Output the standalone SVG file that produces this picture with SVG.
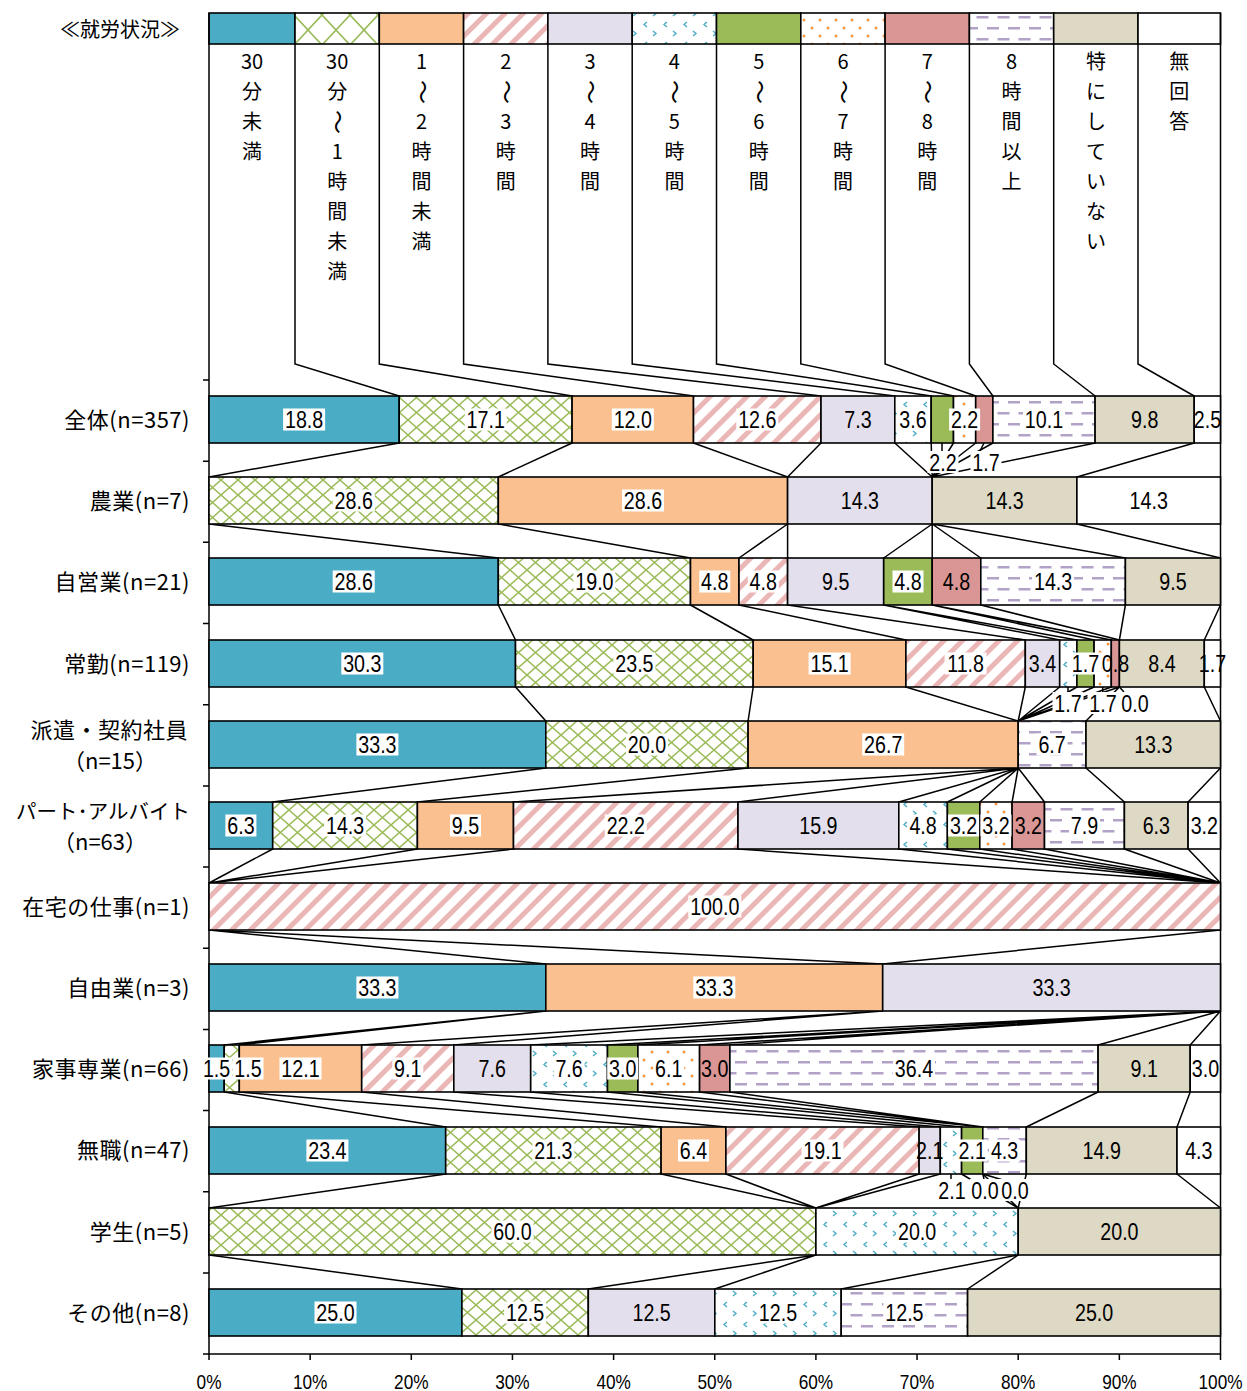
<svg xmlns="http://www.w3.org/2000/svg" width="1247" height="1391" viewBox="0 0 1247 1391">
<style>
.seg{stroke:#000;stroke-width:1.6}
.ln{fill:none;stroke:#000;stroke-width:1.5}
.lb{font-family:"Liberation Sans",Arial,sans-serif;font-size:24px;text-anchor:middle;fill:#000}
.bx{fill:#fff}
.cat{font-family:"Noto Sans CJK JP","Noto Sans CJK SC",sans-serif;font-size:22px;letter-spacing:0.5px;text-anchor:end;fill:#000}
.catn{font-size:20.5px;letter-spacing:0}
.catc{font-family:"Noto Sans CJK JP","Noto Sans CJK SC",sans-serif;font-size:22px;text-anchor:middle;fill:#000}
.lg{font-family:"Noto Sans CJK JP","Noto Sans CJK SC",sans-serif;font-size:20px;text-anchor:middle;fill:#000}
.wave{font-size:24px}
.ax{font-family:"Liberation Sans",Arial,sans-serif;font-size:21px;text-anchor:middle;fill:#000}
.c1{fill:#4BACC6}.c2{fill:url(#pCross)}.c3{fill:#FAC090}.c4{fill:url(#pStripe)}
.c5{fill:#E4DFEC}.c6{fill:url(#pArrow)}.c7{fill:#9BBB59}.c8{fill:url(#pDot)}
.c9{fill:#D99694}.c10{fill:url(#pDash)}.c11{fill:#DDD9C4}.c12{fill:#fff}
.c2L{fill:url(#pCrossL)}
</style>
<defs>
<pattern id="pCross" width="17" height="15" patternUnits="userSpaceOnUse">
<rect width="17" height="15" fill="#fff"/>
<path d="M0,0L17,15M17,0L0,15" stroke="#9BBB59" stroke-width="1.5"/>
</pattern>
<pattern id="pCrossL" width="28" height="30" patternUnits="userSpaceOnUse">
<rect width="28" height="30" fill="#fff"/>
<path d="M0,0L28,30M28,0L0,30" stroke="#9BBB59" stroke-width="1.6"/>
</pattern>
<pattern id="pStripe" width="13" height="13" patternUnits="userSpaceOnUse" patternTransform="rotate(45)">
<rect width="13" height="13" fill="#fff"/>
<rect width="5" height="13" fill="#EBB7B6"/>
</pattern>
<pattern id="pArrow" width="20" height="20" patternUnits="userSpaceOnUse">
<rect width="20" height="20" fill="#fff"/>
<path d="M7,2L4,4.5L7,7M13,11L16,13.5L13,16" fill="none" stroke="#4BACC6" stroke-width="1.4"/>
</pattern>
<pattern id="pDot" width="16" height="16" patternUnits="userSpaceOnUse">
<rect width="16" height="16" fill="#fff"/>
<circle cx="4" cy="4" r="1.5" fill="#F79646"/>
<circle cx="12" cy="12" r="1.5" fill="#F79646"/>
</pattern>
<pattern id="pDash" width="21" height="22" patternUnits="userSpaceOnUse">
<rect width="21" height="22" fill="#fff"/>
<rect x="0" y="5" width="12" height="2.5" fill="#B3A2C7"/>
<rect x="10.5" y="16" width="10.5" height="2.5" fill="#B3A2C7"/>
<rect x="0" y="16" width="1.5" height="2.5" fill="#B3A2C7"/>
</pattern>
</defs>
<rect width="1247" height="1391" fill="#fff"/>

<!-- legend: swatches, vertical captions and leader lines to the first bar -->
<g id="legend">
<text class="lg" x="120" y="37">≪就労状況≫</text>
<rect class="seg c1" x="209" y="13" width="86" height="31"/>
<rect class="seg c2L" x="295" y="13" width="84.3" height="31"/>
<rect class="seg c3" x="379.3" y="13" width="84.3" height="31"/>
<rect class="seg c4" x="463.6" y="13" width="84.3" height="31"/>
<rect class="seg c5" x="547.9" y="13" width="84.3" height="31"/>
<rect class="seg c6" x="632.2" y="13" width="84.3" height="31"/>
<rect class="seg c7" x="716.5" y="13" width="84.3" height="31"/>
<rect class="seg c8" x="800.8" y="13" width="84.3" height="31"/>
<rect class="seg c9" x="885.1" y="13" width="84.3" height="31"/>
<rect class="seg c10" x="969.4" y="13" width="84.3" height="31"/>
<rect class="seg c11" x="1053.7" y="13" width="84.3" height="31"/>
<rect class="seg c12" x="1138" y="13" width="82.5" height="31"/>
<path class="ln" d="M295,44V364L399.2,396M379.3,44V364L572.1,396M463.6,44V364L693.5,396M547.9,44V364L821,396M632.2,44V364L894.8,396M716.5,44V364L931.2,396M800.8,44V364L953.5,396M885.1,44V364L975.7,396M969.4,44V364L992.9,396M1053.7,44V364L1095.1,396M1138,44V364L1194.2,396"/>
<text class="lg"><tspan x="252" y="69">30</tspan><tspan x="252" y="99">分</tspan><tspan x="252" y="129">未</tspan><tspan x="252" y="159">満</tspan></text>
<text class="lg"><tspan x="337.2" y="69">30</tspan><tspan x="337.2" y="99">分</tspan><tspan x="337.2" y="159">1</tspan><tspan x="337.2" y="189">時</tspan><tspan x="337.2" y="219">間</tspan><tspan x="337.2" y="249">未</tspan><tspan x="337.2" y="279">満</tspan></text>
<text class="lg wave" x="337.2" y="130" transform="rotate(90 337.2 122)">～</text>
<text class="lg"><tspan x="421.5" y="69">1</tspan><tspan x="421.5" y="129">2</tspan><tspan x="421.5" y="159">時</tspan><tspan x="421.5" y="189">間</tspan><tspan x="421.5" y="219">未</tspan><tspan x="421.5" y="249">満</tspan></text>
<text class="lg wave" x="421.5" y="100" transform="rotate(90 421.5 92)">～</text>
<text class="lg"><tspan x="505.8" y="69">2</tspan><tspan x="505.8" y="129">3</tspan><tspan x="505.8" y="159">時</tspan><tspan x="505.8" y="189">間</tspan></text>
<text class="lg wave" x="505.8" y="100" transform="rotate(90 505.8 92)">～</text>
<text class="lg"><tspan x="590.1" y="69">3</tspan><tspan x="590.1" y="129">4</tspan><tspan x="590.1" y="159">時</tspan><tspan x="590.1" y="189">間</tspan></text>
<text class="lg wave" x="590.1" y="100" transform="rotate(90 590.1 92)">～</text>
<text class="lg"><tspan x="674.4" y="69">4</tspan><tspan x="674.4" y="129">5</tspan><tspan x="674.4" y="159">時</tspan><tspan x="674.4" y="189">間</tspan></text>
<text class="lg wave" x="674.4" y="100" transform="rotate(90 674.4 92)">～</text>
<text class="lg"><tspan x="758.7" y="69">5</tspan><tspan x="758.7" y="129">6</tspan><tspan x="758.7" y="159">時</tspan><tspan x="758.7" y="189">間</tspan></text>
<text class="lg wave" x="758.7" y="100" transform="rotate(90 758.7 92)">～</text>
<text class="lg"><tspan x="843" y="69">6</tspan><tspan x="843" y="129">7</tspan><tspan x="843" y="159">時</tspan><tspan x="843" y="189">間</tspan></text>
<text class="lg wave" x="843" y="100" transform="rotate(90 843 92)">～</text>
<text class="lg"><tspan x="927.3" y="69">7</tspan><tspan x="927.3" y="129">8</tspan><tspan x="927.3" y="159">時</tspan><tspan x="927.3" y="189">間</tspan></text>
<text class="lg wave" x="927.3" y="100" transform="rotate(90 927.3 92)">～</text>
<text class="lg"><tspan x="1011.6" y="69">8</tspan><tspan x="1011.6" y="99">時</tspan><tspan x="1011.6" y="129">間</tspan><tspan x="1011.6" y="159">以</tspan><tspan x="1011.6" y="189">上</tspan></text>
<text class="lg"><tspan x="1095.9" y="69">特</tspan><tspan x="1095.9" y="99">に</tspan><tspan x="1095.9" y="129">し</tspan><tspan x="1095.9" y="159">て</tspan><tspan x="1095.9" y="189">い</tspan><tspan x="1095.9" y="219">な</tspan><tspan x="1095.9" y="249">い</tspan></text>
<text class="lg"><tspan x="1179.3" y="69">無</tspan><tspan x="1179.3" y="99">回</tspan><tspan x="1179.3" y="129">答</tspan></text>
</g>

<!-- axes, frame and ticks -->
<g id="axes">
<path class="ln" d="M209,13V1354H1220.5V13"/>
<path class="ln" d="M203,380H209M203,461.2H209M203,542.3H209M203,623.5H209M203,704.7H209M203,785.9H209M203,867H209M203,948.2H209M203,1029.4H209M203,1110.5H209M203,1191.7H209M203,1272.9H209M203,1354H209"/>
<path class="ln" d="M209,1354V1360M310.15,1354V1360M411.3,1354V1360M512.45,1354V1360M613.6,1354V1360M714.75,1354V1360M815.9,1354V1360M917.05,1354V1360M1018.2,1354V1360M1119.35,1354V1360M1220.5,1354V1360"/>
<text class="ax" transform="translate(209 1389) scale(.82 1)">0%</text>
<text class="ax" transform="translate(310.15 1389) scale(.82 1)">10%</text>
<text class="ax" transform="translate(411.3 1389) scale(.82 1)">20%</text>
<text class="ax" transform="translate(512.45 1389) scale(.82 1)">30%</text>
<text class="ax" transform="translate(613.6 1389) scale(.82 1)">40%</text>
<text class="ax" transform="translate(714.75 1389) scale(.82 1)">50%</text>
<text class="ax" transform="translate(815.9 1389) scale(.82 1)">60%</text>
<text class="ax" transform="translate(917.05 1389) scale(.82 1)">70%</text>
<text class="ax" transform="translate(1018.2 1389) scale(.82 1)">80%</text>
<text class="ax" transform="translate(1119.35 1389) scale(.82 1)">90%</text>
<text class="ax" transform="translate(1220.5 1389) scale(.82 1)">100%</text>
</g>

<!-- series lines between neighbouring bars -->
<g id="connectors" class="ln">
<path d="M399.2,443L209,477M572.1,443L498.3,477M693.5,443L787.6,477M821,443L787.6,477M894.8,443L932.2,477M931.2,443L932.2,477M953.5,443L932.2,477M975.7,443L932.2,477M992.9,443L932.2,477M1095.1,443L932.2,477M1194.2,443L1076.9,477"/>
<path d="M209,524L498.3,558M498.3,524L690.5,558M787.6,524L739,558M787.6,524L787.6,558M932.2,524L883.7,558M932.2,524L932.2,558M932.2,524L980.8,558M932.2,524L1125.4,558M1076.9,524L1220.5,558"/>
<path d="M498.3,605L515.5,640M690.5,605L753.2,640M739,605L905.9,640M787.6,605L1025.3,640M883.7,605L1059.7,640M883.7,605L1076.9,640M932.2,605L1094.1,640M932.2,605L1111.3,640M980.8,605L1119.4,640M1125.4,605L1119.4,640M1220.5,605L1204.3,640"/>
<path d="M515.5,687L545.8,721M753.2,687L748.1,721M905.9,687L1018.2,721M1025.3,687L1018.2,721M1059.7,687L1018.2,721M1076.9,687L1018.2,721M1094.1,687L1018.2,721M1111.3,687L1018.2,721M1119.4,687L1018.2,721M1119.4,687L1086,721M1204.3,687L1220.5,721"/>
<path d="M545.8,768L272.7,802M748.1,768L417.4,802M1018.2,768L513.5,802M1018.2,768L738,802M1018.2,768L898.8,802M1018.2,768L947.4,802M1018.2,768L979.8,802M1018.2,768L1012.1,802M1018.2,768L1044.5,802M1086,768L1124.4,802M1220.5,768L1188.1,802"/>
<path d="M272.7,849L209,883M417.4,849L209,883M513.5,849L209,883M738,849L1220.5,883M898.8,849L1220.5,883M947.4,849L1220.5,883M979.8,849L1220.5,883M1012.1,849L1220.5,883M1044.5,849L1220.5,883M1124.4,849L1220.5,883M1188.1,849L1220.5,883"/>
<path d="M209,930L545.8,964M209,930L882.7,964M1220.5,930L882.7,964"/>
<path d="M545.8,1011L224.2,1045M545.8,1011L239.3,1045M882.7,1011L361.7,1045M882.7,1011L453.8,1045M1220.5,1011L530.7,1045M1220.5,1011L607.5,1045M1220.5,1011L637.9,1045M1220.5,1011L699.6,1045M1220.5,1011L729.9,1045M1220.5,1011L1098.1,1045M1220.5,1011L1190.2,1045"/>
<path d="M224.2,1092L445.7,1127M239.3,1092L661.1,1127M361.7,1092L725.9,1127M453.8,1092L919.1,1127M530.7,1092L940.3,1127M607.5,1092L961.6,1127M637.9,1092L982.8,1127M699.6,1092L982.8,1127M729.9,1092L982.8,1127M1098.1,1092L1026.3,1127M1190.2,1092L1177,1127"/>
<path d="M445.7,1174L209,1208M661.1,1174L815.9,1208M725.9,1174L815.9,1208M919.1,1174L815.9,1208M940.3,1174L815.9,1208M961.6,1174L1018.2,1208M982.8,1174L1018.2,1208M1026.3,1174L1018.2,1208M1177,1174L1220.5,1208"/>
<path d="M209,1255L461.9,1289M815.9,1255L588.3,1289M815.9,1255L714.8,1289M1018.2,1255L841.2,1289M1018.2,1255L967.6,1289"/>
<path d="M942,443V451M984,443L980,451M1068,687V692M1102.7,687V692M1119.4,687L1124,692M951,1174V1179M982.8,1174L984,1179M982.8,1174L1003,1180"/>
</g>

<g id="row-zentai">
<text class="cat" x="190" y="428">全体(n=357)</text>
<rect class="seg c1" x="209" y="396" width="190.2" height="47"/>
<rect class="seg c2" x="399.2" y="396" width="172.9" height="47"/>
<rect class="seg c3" x="572.1" y="396" width="121.4" height="47"/>
<rect class="seg c4" x="693.5" y="396" width="127.5" height="47"/>
<rect class="seg c5" x="821" y="396" width="73.8" height="47"/>
<rect class="seg c6" x="894.8" y="396" width="36.4" height="47"/>
<rect class="seg c7" x="931.2" y="396" width="22.3" height="47"/>
<rect class="seg c8" x="953.5" y="396" width="22.2" height="47"/>
<rect class="seg c9" x="975.7" y="396" width="17.2" height="47"/>
<rect class="seg c10" x="992.9" y="396" width="102.2" height="47"/>
<rect class="seg c11" x="1095.1" y="396" width="99.1" height="47"/>
<rect class="seg c12" x="1194.2" y="396" width="26.3" height="47"/>
<rect class="bx" x="283.1" y="408.5" width="42" height="22"/>
<rect class="bx" x="464.7" y="408.5" width="42" height="22"/>
<rect class="bx" x="611.8" y="408.5" width="42" height="22"/>
<rect class="bx" x="736.3" y="408.5" width="42" height="22"/>
<rect class="bx" x="897.5" y="408.5" width="31" height="22"/>
<rect class="bx" x="949.1" y="408.5" width="31" height="22"/>
<rect class="bx" x="1023" y="408.5" width="42" height="22"/>
<rect class="bx" x="927.5" y="451" width="31" height="22"/>
<rect class="bx" x="970.5" y="451" width="31" height="22"/>
<text class="lb" transform="translate(304.1 428) scale(.82 1)">18.8</text>
<text class="lb" transform="translate(485.7 428) scale(.82 1)">17.1</text>
<text class="lb" transform="translate(632.8 428) scale(.82 1)">12.0</text>
<text class="lb" transform="translate(757.3 428) scale(.82 1)">12.6</text>
<text class="lb" transform="translate(857.9 428) scale(.82 1)">7.3</text>
<text class="lb" transform="translate(913 428) scale(.82 1)">3.6</text>
<text class="lb" transform="translate(964.6 428) scale(.82 1)">2.2</text>
<text class="lb" transform="translate(1044 428) scale(.82 1)">10.1</text>
<text class="lb" transform="translate(1144.7 428) scale(.82 1)">9.8</text>
<text class="lb" transform="translate(1207.4 428) scale(.82 1)">2.5</text>
<text class="lb" transform="translate(943 470.5) scale(.82 1)">2.2</text>
<text class="lb" transform="translate(986 470.5) scale(.82 1)">1.7</text>
</g>

<g id="row-nougyou">
<text class="cat" x="190" y="509">農業(n=7)</text>
<rect class="seg c2" x="209" y="477" width="289.3" height="47"/>
<rect class="seg c3" x="498.3" y="477" width="289.3" height="47"/>
<rect class="seg c5" x="787.6" y="477" width="144.6" height="47"/>
<rect class="seg c11" x="932.2" y="477" width="144.7" height="47"/>
<rect class="seg c12" x="1076.9" y="477" width="143.6" height="47"/>
<rect class="bx" x="332.7" y="489.5" width="42" height="22"/>
<rect class="bx" x="622" y="489.5" width="42" height="22"/>
<text class="lb" transform="translate(353.7 509) scale(.82 1)">28.6</text>
<text class="lb" transform="translate(643 509) scale(.82 1)">28.6</text>
<text class="lb" transform="translate(859.9 509) scale(.82 1)">14.3</text>
<text class="lb" transform="translate(1004.6 509) scale(.82 1)">14.3</text>
<text class="lb" transform="translate(1148.7 509) scale(.82 1)">14.3</text>
</g>

<g id="row-jieigyou">
<text class="cat" x="190" y="590">自営業(n=21)</text>
<rect class="seg c1" x="209" y="558" width="289.3" height="47"/>
<rect class="seg c2" x="498.3" y="558" width="192.2" height="47"/>
<rect class="seg c3" x="690.5" y="558" width="48.5" height="47"/>
<rect class="seg c4" x="739" y="558" width="48.6" height="47"/>
<rect class="seg c5" x="787.6" y="558" width="96.1" height="47"/>
<rect class="seg c7" x="883.7" y="558" width="48.5" height="47"/>
<rect class="seg c9" x="932.2" y="558" width="48.6" height="47"/>
<rect class="seg c10" x="980.8" y="558" width="144.6" height="47"/>
<rect class="seg c11" x="1125.4" y="558" width="95.1" height="47"/>
<rect class="bx" x="332.7" y="570.5" width="42" height="22"/>
<rect class="bx" x="573.4" y="570.5" width="42" height="22"/>
<rect class="bx" x="699.3" y="570.5" width="31" height="22"/>
<rect class="bx" x="747.8" y="570.5" width="31" height="22"/>
<rect class="bx" x="892.5" y="570.5" width="31" height="22"/>
<rect class="bx" x="1032.1" y="570.5" width="42" height="22"/>
<text class="lb" transform="translate(353.7 590) scale(.82 1)">28.6</text>
<text class="lb" transform="translate(594.4 590) scale(.82 1)">19.0</text>
<text class="lb" transform="translate(714.8 590) scale(.82 1)">4.8</text>
<text class="lb" transform="translate(763.3 590) scale(.82 1)">4.8</text>
<text class="lb" transform="translate(835.7 590) scale(.82 1)">9.5</text>
<text class="lb" transform="translate(908 590) scale(.82 1)">4.8</text>
<text class="lb" transform="translate(956.5 590) scale(.82 1)">4.8</text>
<text class="lb" transform="translate(1053.1 590) scale(.82 1)">14.3</text>
<text class="lb" transform="translate(1173 590) scale(.82 1)">9.5</text>
</g>

<g id="row-joukin">
<text class="cat" x="190" y="672">常勤(n=119)</text>
<rect class="seg c1" x="209" y="640" width="306.5" height="47"/>
<rect class="seg c2" x="515.5" y="640" width="237.7" height="47"/>
<rect class="seg c3" x="753.2" y="640" width="152.7" height="47"/>
<rect class="seg c4" x="905.9" y="640" width="119.4" height="47"/>
<rect class="seg c5" x="1025.3" y="640" width="34.4" height="47"/>
<rect class="seg c6" x="1059.7" y="640" width="17.2" height="47"/>
<rect class="seg c7" x="1076.9" y="640" width="17.2" height="47"/>
<rect class="seg c8" x="1094.1" y="640" width="17.2" height="47"/>
<rect class="seg c9" x="1111.3" y="640" width="8.1" height="47"/>
<rect class="seg c11" x="1119.4" y="640" width="84.9" height="47"/>
<rect class="seg c12" x="1204.3" y="640" width="16.2" height="47"/>
<rect class="bx" x="341.3" y="652.5" width="42" height="22"/>
<rect class="bx" x="613.4" y="652.5" width="42" height="22"/>
<rect class="bx" x="808.6" y="652.5" width="42" height="22"/>
<rect class="bx" x="944.6" y="652.5" width="42" height="22"/>
<rect class="bx" x="1070" y="652.5" width="31" height="22"/>
<rect class="bx" x="1052.5" y="692" width="31" height="22"/>
<rect class="bx" x="1087.5" y="692" width="31" height="22"/>
<rect class="bx" x="1119.5" y="692" width="31" height="22"/>
<text class="lb" transform="translate(362.3 672) scale(.82 1)">30.3</text>
<text class="lb" transform="translate(634.4 672) scale(.82 1)">23.5</text>
<text class="lb" transform="translate(829.6 672) scale(.82 1)">15.1</text>
<text class="lb" transform="translate(965.6 672) scale(.82 1)">11.8</text>
<text class="lb" transform="translate(1042.5 672) scale(.82 1)">3.4</text>
<text class="lb" transform="translate(1085.5 672) scale(.82 1)">1.7</text>
<text class="lb" transform="translate(1115.4 672) scale(.82 1)">0.8</text>
<text class="lb" transform="translate(1161.9 672) scale(.82 1)">8.4</text>
<text class="lb" transform="translate(1212.4 672) scale(.82 1)">1.7</text>
<text class="lb" transform="translate(1068 711.5) scale(.82 1)">1.7</text>
<text class="lb" transform="translate(1103 711.5) scale(.82 1)">1.7</text>
<text class="lb" transform="translate(1135 711.5) scale(.82 1)">0.0</text>
</g>

<g id="row-haken">
<text class="cat" x="188" y="738">派遣・契約社員</text>
<text class="catc" x="110" y="769">（n=15）</text>
<rect class="seg c1" x="209" y="721" width="336.8" height="47"/>
<rect class="seg c2" x="545.8" y="721" width="202.3" height="47"/>
<rect class="seg c3" x="748.1" y="721" width="270.1" height="47"/>
<rect class="seg c10" x="1018.2" y="721" width="67.8" height="47"/>
<rect class="seg c11" x="1086" y="721" width="134.5" height="47"/>
<rect class="bx" x="356.4" y="733.5" width="42" height="22"/>
<rect class="bx" x="626" y="733.5" width="42" height="22"/>
<rect class="bx" x="862.2" y="733.5" width="42" height="22"/>
<rect class="bx" x="1036.6" y="733.5" width="31" height="22"/>
<text class="lb" transform="translate(377.4 753) scale(.82 1)">33.3</text>
<text class="lb" transform="translate(647 753) scale(.82 1)">20.0</text>
<text class="lb" transform="translate(883.2 753) scale(.82 1)">26.7</text>
<text class="lb" transform="translate(1052.1 753) scale(.82 1)">6.7</text>
<text class="lb" transform="translate(1153.3 753) scale(.82 1)">13.3</text>
</g>

<g id="row-part">
<text class="cat catn" x="190" y="819">パート･アルバイト</text>
<text class="catc" x="100" y="850">（n=63）</text>
<rect class="seg c1" x="209" y="802" width="63.7" height="47"/>
<rect class="seg c2" x="272.7" y="802" width="144.7" height="47"/>
<rect class="seg c3" x="417.4" y="802" width="96.1" height="47"/>
<rect class="seg c4" x="513.5" y="802" width="224.5" height="47"/>
<rect class="seg c5" x="738" y="802" width="160.8" height="47"/>
<rect class="seg c6" x="898.8" y="802" width="48.6" height="47"/>
<rect class="seg c7" x="947.4" y="802" width="32.4" height="47"/>
<rect class="seg c8" x="979.8" y="802" width="32.3" height="47"/>
<rect class="seg c9" x="1012.1" y="802" width="32.4" height="47"/>
<rect class="seg c10" x="1044.5" y="802" width="79.9" height="47"/>
<rect class="seg c11" x="1124.4" y="802" width="63.7" height="47"/>
<rect class="seg c12" x="1188.1" y="802" width="32.4" height="47"/>
<rect class="bx" x="225.4" y="814.5" width="31" height="22"/>
<rect class="bx" x="324.1" y="814.5" width="42" height="22"/>
<rect class="bx" x="450" y="814.5" width="31" height="22"/>
<rect class="bx" x="604.8" y="814.5" width="42" height="22"/>
<rect class="bx" x="907.6" y="814.5" width="31" height="22"/>
<rect class="bx" x="948.1" y="814.5" width="31" height="22"/>
<rect class="bx" x="980.5" y="814.5" width="31" height="22"/>
<rect class="bx" x="1069" y="814.5" width="31" height="22"/>
<text class="lb" transform="translate(240.9 834) scale(.82 1)">6.3</text>
<text class="lb" transform="translate(345.1 834) scale(.82 1)">14.3</text>
<text class="lb" transform="translate(465.5 834) scale(.82 1)">9.5</text>
<text class="lb" transform="translate(625.8 834) scale(.82 1)">22.2</text>
<text class="lb" transform="translate(818.4 834) scale(.82 1)">15.9</text>
<text class="lb" transform="translate(923.1 834) scale(.82 1)">4.8</text>
<text class="lb" transform="translate(963.6 834) scale(.82 1)">3.2</text>
<text class="lb" transform="translate(996 834) scale(.82 1)">3.2</text>
<text class="lb" transform="translate(1028.3 834) scale(.82 1)">3.2</text>
<text class="lb" transform="translate(1084.5 834) scale(.82 1)">7.9</text>
<text class="lb" transform="translate(1156.3 834) scale(.82 1)">6.3</text>
<text class="lb" transform="translate(1204.3 834) scale(.82 1)">3.2</text>
</g>

<g id="row-zaitaku">
<text class="cat" x="190" y="915">在宅の仕事(n=1)</text>
<rect class="seg c4" x="209" y="883" width="1011.5" height="47"/>
<rect class="bx" x="688.3" y="895.5" width="53" height="22"/>
<text class="lb" transform="translate(714.8 915) scale(.82 1)">100.0</text>
</g>

<g id="row-jiyuugyou">
<text class="cat" x="190" y="996">自由業(n=3)</text>
<rect class="seg c1" x="209" y="964" width="336.8" height="47"/>
<rect class="seg c3" x="545.8" y="964" width="336.9" height="47"/>
<rect class="seg c5" x="882.7" y="964" width="337.8" height="47"/>
<rect class="bx" x="356.4" y="976.5" width="42" height="22"/>
<rect class="bx" x="693.3" y="976.5" width="42" height="22"/>
<text class="lb" transform="translate(377.4 996) scale(.82 1)">33.3</text>
<text class="lb" transform="translate(714.3 996) scale(.82 1)">33.3</text>
<text class="lb" transform="translate(1051.6 996) scale(.82 1)">33.3</text>
</g>

<g id="row-kaji">
<text class="cat" x="190" y="1077">家事専業(n=66)</text>
<rect class="seg c1" x="209" y="1045" width="15.2" height="47"/>
<rect class="seg c2" x="224.2" y="1045" width="15.1" height="47"/>
<rect class="seg c3" x="239.3" y="1045" width="122.4" height="47"/>
<rect class="seg c4" x="361.7" y="1045" width="92.1" height="47"/>
<rect class="seg c5" x="453.8" y="1045" width="76.9" height="47"/>
<rect class="seg c6" x="530.7" y="1045" width="76.8" height="47"/>
<rect class="seg c7" x="607.5" y="1045" width="30.4" height="47"/>
<rect class="seg c8" x="637.9" y="1045" width="61.7" height="47"/>
<rect class="seg c9" x="699.6" y="1045" width="30.3" height="47"/>
<rect class="seg c10" x="729.9" y="1045" width="368.2" height="47"/>
<rect class="seg c11" x="1098.1" y="1045" width="92.1" height="47"/>
<rect class="seg c12" x="1190.2" y="1045" width="30.3" height="47"/>
<rect class="bx" x="201.1" y="1057.5" width="31" height="22"/>
<rect class="bx" x="232.5" y="1057.5" width="31" height="22"/>
<rect class="bx" x="279.5" y="1057.5" width="42" height="22"/>
<rect class="bx" x="392.3" y="1057.5" width="31" height="22"/>
<rect class="bx" x="553.6" y="1057.5" width="31" height="22"/>
<rect class="bx" x="607.2" y="1057.5" width="31" height="22"/>
<rect class="bx" x="653.3" y="1057.5" width="31" height="22"/>
<rect class="bx" x="893" y="1057.5" width="42" height="22"/>
<text class="lb" transform="translate(216.6 1077) scale(.82 1)">1.5</text>
<text class="lb" transform="translate(248 1077) scale(.82 1)">1.5</text>
<text class="lb" transform="translate(300.5 1077) scale(.82 1)">12.1</text>
<text class="lb" transform="translate(407.8 1077) scale(.82 1)">9.1</text>
<text class="lb" transform="translate(492.3 1077) scale(.82 1)">7.6</text>
<text class="lb" transform="translate(569.1 1077) scale(.82 1)">7.6</text>
<text class="lb" transform="translate(622.7 1077) scale(.82 1)">3.0</text>
<text class="lb" transform="translate(668.8 1077) scale(.82 1)">6.1</text>
<text class="lb" transform="translate(714.8 1077) scale(.82 1)">3.0</text>
<text class="lb" transform="translate(914 1077) scale(.82 1)">36.4</text>
<text class="lb" transform="translate(1144.2 1077) scale(.82 1)">9.1</text>
<text class="lb" transform="translate(1205.4 1077) scale(.82 1)">3.0</text>
</g>

<g id="row-mushoku">
<text class="cat" x="190" y="1158">無職(n=47)</text>
<rect class="seg c1" x="209" y="1127" width="236.7" height="47"/>
<rect class="seg c2" x="445.7" y="1127" width="215.4" height="47"/>
<rect class="seg c3" x="661.1" y="1127" width="64.8" height="47"/>
<rect class="seg c4" x="725.9" y="1127" width="193.2" height="47"/>
<rect class="seg c5" x="919.1" y="1127" width="21.2" height="47"/>
<rect class="seg c6" x="940.3" y="1127" width="21.3" height="47"/>
<rect class="seg c7" x="961.6" y="1127" width="21.2" height="47"/>
<rect class="seg c10" x="982.8" y="1127" width="43.5" height="47"/>
<rect class="seg c11" x="1026.3" y="1127" width="150.7" height="47"/>
<rect class="seg c12" x="1177" y="1127" width="43.5" height="47"/>
<rect class="bx" x="306.4" y="1139.5" width="42" height="22"/>
<rect class="bx" x="532.4" y="1139.5" width="42" height="22"/>
<rect class="bx" x="678" y="1139.5" width="31" height="22"/>
<rect class="bx" x="801.5" y="1139.5" width="42" height="22"/>
<rect class="bx" x="956.7" y="1139.5" width="31" height="22"/>
<rect class="bx" x="989.1" y="1139.5" width="31" height="22"/>
<rect class="bx" x="936.5" y="1179" width="31" height="22"/>
<rect class="bx" x="969.5" y="1179" width="31" height="22"/>
<rect class="bx" x="999.5" y="1179" width="31" height="22"/>
<text class="lb" transform="translate(327.4 1159) scale(.82 1)">23.4</text>
<text class="lb" transform="translate(553.4 1159) scale(.82 1)">21.3</text>
<text class="lb" transform="translate(693.5 1159) scale(.82 1)">6.4</text>
<text class="lb" transform="translate(822.5 1159) scale(.82 1)">19.1</text>
<text class="lb" transform="translate(929.7 1159) scale(.82 1)">2.1</text>
<text class="lb" transform="translate(972.2 1159) scale(.82 1)">2.1</text>
<text class="lb" transform="translate(1004.6 1159) scale(.82 1)">4.3</text>
<text class="lb" transform="translate(1101.7 1159) scale(.82 1)">14.9</text>
<text class="lb" transform="translate(1198.8 1159) scale(.82 1)">4.3</text>
<text class="lb" transform="translate(952 1198.5) scale(.82 1)">2.1</text>
<text class="lb" transform="translate(985 1198.5) scale(.82 1)">0.0</text>
<text class="lb" transform="translate(1015 1198.5) scale(.82 1)">0.0</text>
</g>

<g id="row-gakusei">
<text class="cat" x="190" y="1240">学生(n=5)</text>
<rect class="seg c2" x="209" y="1208" width="606.9" height="47"/>
<rect class="seg c6" x="815.9" y="1208" width="202.3" height="47"/>
<rect class="seg c11" x="1018.2" y="1208" width="202.3" height="47"/>
<rect class="bx" x="491.5" y="1220.5" width="42" height="22"/>
<rect class="bx" x="896.1" y="1220.5" width="42" height="22"/>
<text class="lb" transform="translate(512.5 1240) scale(.82 1)">60.0</text>
<text class="lb" transform="translate(917.1 1240) scale(.82 1)">20.0</text>
<text class="lb" transform="translate(1119.4 1240) scale(.82 1)">20.0</text>
</g>

<g id="row-sonota">
<text class="cat" x="190" y="1321">その他(n=8)</text>
<rect class="seg c1" x="209" y="1289" width="252.9" height="47"/>
<rect class="seg c2" x="461.9" y="1289" width="126.4" height="47"/>
<rect class="seg c5" x="588.3" y="1289" width="126.5" height="47"/>
<rect class="seg c6" x="714.8" y="1289" width="126.4" height="47"/>
<rect class="seg c10" x="841.2" y="1289" width="126.4" height="47"/>
<rect class="seg c11" x="967.6" y="1289" width="252.9" height="47"/>
<rect class="bx" x="314.5" y="1301.5" width="42" height="22"/>
<rect class="bx" x="504.1" y="1301.5" width="42" height="22"/>
<rect class="bx" x="757" y="1301.5" width="42" height="22"/>
<rect class="bx" x="883.4" y="1301.5" width="42" height="22"/>
<text class="lb" transform="translate(335.5 1321) scale(.82 1)">25.0</text>
<text class="lb" transform="translate(525.1 1321) scale(.82 1)">12.5</text>
<text class="lb" transform="translate(651.6 1321) scale(.82 1)">12.5</text>
<text class="lb" transform="translate(778 1321) scale(.82 1)">12.5</text>
<text class="lb" transform="translate(904.4 1321) scale(.82 1)">12.5</text>
<text class="lb" transform="translate(1094.1 1321) scale(.82 1)">25.0</text>
</g>
</svg>
